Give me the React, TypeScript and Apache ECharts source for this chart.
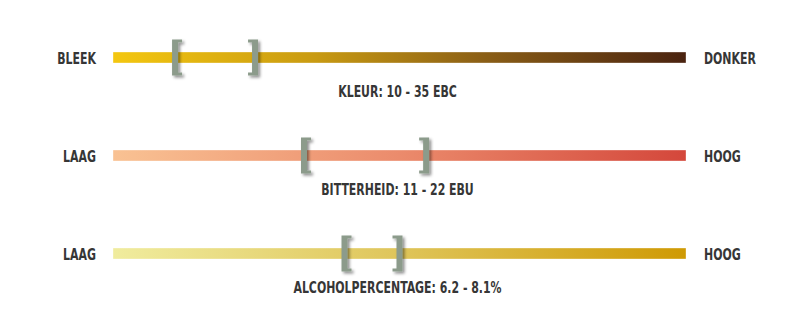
import React, { useEffect, useRef } from "react";
import * as echarts from "echarts";

// ---- data ----
const rowLabels = ["KLEUR", "BITTERHEID", "ALCOHOLPERCENTAGE"];
const lowEndLabels = ["BLEEK", "LAAG", "LAAG"];
const highEndLabels = ["DONKER", "HOOG", "HOOG"];
const rangeLow = [10, 11, 6.2];
const rangeHigh = [35, 22, 8.1];
const units = [" EBC", " EBU", "%"];
const scaleMin = [-9.4, -6.2, -1.8];
const scaleMax = [169.7, 45.4, 18.0];

// ---- styles ----
const rowCenters = [57.5, 155.5, 253.5];
const gradients = [
  [
    [0, "#f4c710"],
    [0.35, "#c99b12"],
    [0.65, "#8a5e16"],
    [1, "#4a2310"],
  ],
  [
    [0, "#f9c293"],
    [0.5, "#eb8b6c"],
    [1, "#d4473b"],
  ],
  [
    [0, "#f0ec9e"],
    [0.5, "#dfc55a"],
    [1, "#cf9a04"],
  ],
];
const TEXT_COLOR = "#363636";
const FONT = "bold 16px 'Liberation Sans Narrow', 'DejaVu Sans Condensed', 'Roboto Condensed', sans-serif";
const TEXT_SCALE_X = 0.76;
const BRACKET_COLOR = "#8c9b8b";
const BAR_H = 11;

function bracketPoints(cx: number, t: number, b: number, dir: number) {
  // dir = 1 for "[", -1 for "]"
  const o = -3 * dir;
  const i = 3 * dir;
  const s = 7 * dir;
  return [
    [cx + o, t],
    [cx + s, t],
    [cx + s, t + 3],
    [cx + i, t + 3],
    [cx + i, b - 3],
    [cx + s, b - 3],
    [cx + s, b],
    [cx + o, b],
  ];
}

function textEl(text: string, x: number, y: number, align: string) {
  return {
    type: "text",
    x,
    y,
    scaleX: TEXT_SCALE_X,
    scaleY: 1,
    style: {
      text,
      fill: TEXT_COLOR,
      font: FONT,
      align,
      verticalAlign: "middle",
      textAlign: align,
      textVerticalAlign: "middle",
    },
  };
}

export default function App() {
  const ref = useRef<HTMLDivElement>(null);

  useEffect(() => {
    if (!ref.current) return;
    const chart = echarts.init(ref.current, undefined, { renderer: "svg" });

    const grids = rowCenters.map((cy) => ({
      left: 113,
      right: 114,
      top: cy - 20,
      height: 40,
    }));
    const xAxes = rowCenters.map((_, i) => ({
      type: "value",
      gridIndex: i,
      min: scaleMin[i],
      max: scaleMax[i],
      show: false,
    }));
    const yAxes = rowCenters.map((_, i) => ({
      type: "value",
      gridIndex: i,
      min: -1,
      max: 1,
      show: false,
    }));

    const series = rowCenters.map((_, i) => ({
      type: "custom",
      xAxisIndex: i,
      yAxisIndex: i,
      data: [[rangeLow[i], rangeHigh[i]]],
      renderItem: (params: any, api: any) => {
        const start = api.coord([scaleMin[i], 0]);
        const end = api.coord([scaleMax[i], 0]);
        const lo = api.coord([api.value(0), 0]);
        const hi = api.coord([api.value(1), 0]);
        const cy = start[1];
        const t = cy - 18;
        const b = cy + 18;
        const bracketStyle = {
          fill: BRACKET_COLOR,
          shadowBlur: 3,
          shadowColor: "rgba(0,0,0,0.45)",
          shadowOffsetX: 2,
          shadowOffsetY: 2,
        };
        const title = `${rowLabels[i]}: ${rangeLow[i]} - ${rangeHigh[i]}${units[i]}`;
        return {
          type: "group",
          children: [
            {
              type: "rect",
              shape: { x: start[0], y: cy - BAR_H / 2, width: end[0] - start[0], height: BAR_H },
              style: {
                fill: {
                  type: "linear",
                  x: 0,
                  y: 0,
                  x2: 1,
                  y2: 0,
                  colorStops: gradients[i].map(([offset, color]) => ({ offset, color })),
                },
                stroke: "rgba(255,255,255,0.35)",
                lineWidth: 1,
              },
            },
            {
              type: "polygon",
              shape: { points: bracketPoints(lo[0], t, b, 1) },
              style: bracketStyle,
            },
            {
              type: "polygon",
              shape: { points: bracketPoints(hi[0], t, b, -1) },
              style: bracketStyle,
            },
            textEl(lowEndLabels[i], start[0] - 17, cy + 0.5, "right"),
            textEl(highEndLabels[i], end[0] + 18, cy + 0.5, "left"),
            textEl(title, (start[0] + end[0]) / 2 - 2, cy + 34, "center"),
          ],
        };
      },
    }));

    chart.setOption({
      animation: false,
      backgroundColor: "#ffffff",
      grid: grids,
      xAxis: xAxes,
      yAxis: yAxes,
      series,
    });

    return () => chart.dispose();
  }, []);

  return (
    <div
      ref={ref}
      style={{ position: "absolute", left: 0, top: 0, width: 800, height: 312 }}
    />
  );
}
